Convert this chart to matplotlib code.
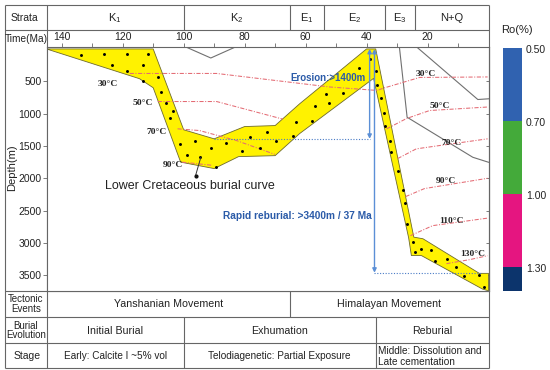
import matplotlib
matplotlib.use("Agg")
import matplotlib.pyplot as plt
from matplotlib.transforms import blended_transform_factory
from matplotlib.patches import Polygon, Rectangle
from matplotlib.ticker import MultipleLocator

plt.rcParams['font.family'] = ['Liberation Sans', 'DejaVu Sans']
plt.rcParams['mathtext.fontset'] = 'custom'
plt.rcParams['mathtext.rm'] = 'Liberation Sans'
plt.rcParams['mathtext.it'] = 'Liberation Sans:italic'

# ---------------- data ----------------
strata_labels = ['K$_1$', 'K$_2$', 'E$_1$', 'E$_2$', 'E$_3$', 'N+Q']
strata_bounds = [145, 100, 65, 54, 34, 24, 0]
time_ticks = [140, 120, 100, 80, 60, 40, 20]
depth_ticks = [500, 1000, 1500, 2000, 2500, 3000, 3500]

# burial-history band (Ma, m)
band_time = [145, 110, 100, 90, 80, 70, 62, 40, 37, 24.5, 21.5, 3, 0, 0, 2,
             22, 25.3, 26.2, 37.7, 62, 70, 82, 90, 101, 110, 114.5]
band_depth = [0, 0, 1250, 1390, 1200, 1185, 850, 0, 0, 2910, 2935, 3470, 3470, 3740, 3712,
              3195, 3195, 2920, 455, 1310, 1650, 1665, 1850, 1750, 600, 460]

# sample dots inside the band
dot_time = [133.8, 126.2, 118.6, 111.7, 123.5, 113.3, 118.6, 113.5, 108.3, 107.3, 105.7, 103.5,
            104.4, 101.3, 96.2, 98.8, 94.5, 91.1, 89.5, 86.2, 80.8, 78.3, 72.8, 74.8, 69.7,
            64.2, 63.1, 57.8, 57.0, 52.4, 53.2, 47.8, 42.5, 39.0,
            37.0, 36.5, 35.2, 34.4, 33.8, 32.2, 31.9, 29.7, 28.2, 27.5, 26.7,
            24.8, 24.0, 22.1, 18.8, 17.7, 13.7, 10.6, 8.1, 3.2, 1.5]
dot_depth = [90, 85, 74, 85, 251, 255, 344, 488, 437, 669, 833, 963,
             1071, 1467, 1416, 1638, 1675, 1536, 1819, 1452, 1579, 1359, 1282, 1533, 1416,
             1350, 1133, 1107, 885, 833, 704, 684, 291, 163,
             348, 550, 755, 994, 1195, 1416, 1598, 1892, 2175, 2387, 2706,
             2980, 3146, 3093, 3108, 3285, 3248, 3367, 3517, 3491, 3687]

# isotherms (Ma, m)
iso30_t = [117.7, 89.2, 52.1, 36.4, 34.8, 22.6, 0.3]
iso30_d = [379, 379, 588, 642, 611, 441, 433]
iso50a_t = [108.5, 89.2, 67.5]
iso50a_d = [813, 813, 1085]
iso50b_t = [33.4, 26.9, 19.3, 0.3]
iso50b_d = [1235, 1076, 952, 898]
iso70a_t = [102.0, 94.8, 82.7, 70.1]
iso70a_d = [1235, 1262, 1416, 1630]
iso70b_t = [29.8, 23.7, 16.1, 0.3]
iso70b_d = [1695, 1545, 1494, 1390]
iso90a_t = [100.5, 90.5]
iso90a_d = [1750, 1800]
iso90b_t = [27.2, 21.0, 0.3]
iso90b_d = [2283, 2159, 2000]
iso110_t = [25.6, 18.3, 0.3]
iso110_d = [2887, 2732, 2616]
iso130_t = [13.8, 6.2, 0.3]
iso130_d = [3320, 3258, 3197]

iso_label_text = ['30°C', '50°C', '70°C', '90°C',
                  '30°C', '50°C', '70°C', '90°C', '110°C', '130°C']
iso_label_t = [124.9, 113.3, 108.8, 103.5, 20.7, 16.1, 12.2, 13.9, 12.2, 5.1]
iso_label_d = [539, 839, 1288, 1788, 395, 885, 1452, 2036, 2666, 3170]

# thin grey lines
grey1_t = [100.7, 91.1, 81.6]
grey1_d = [-60, 140, -60]
grey2_t = [29.3, 26.7, 5.15, 0]
grey2_d = [-60, 1056, 1675, 1752]
grey3_t = [24.3, 3.5, 0]
grey3_d = [-60, 782, 771]

# erosion / reburial markers
erosion_time, erosion_base, erosion_from = 39.0, 1390, 90.0
reburial_time, reburial_base, reburial_to = 37.4, 3460, 2.5

tect_labels = ['Yanshanian Movement', 'Himalayan Movement']
tect_bounds = [145, 65, 0]
burial_labels = ['Initial Burial', 'Exhumation', 'Reburial']
burial_bounds = [145, 100, 37, 0]
stage_labels = ['Early: Calcite I ~5% vol', 'Telodiagenetic: Partial Exposure',
                'Middle: Dissolution and\nLate cementation']

ro_labels = ['0.50', '0.70', '1.00', '1.30']
ro_colors = ['#3062b0', '#44aa3a', '#e51580', '#0c346c']

# ---------------- figure ----------------
W, H = 550, 370
fig = plt.figure(figsize=(W / 100, H / 100), dpi=100)

def fx(px):
    return px / W

def fy(py):
    return 1 - py / H

lay = fig.add_axes([0, 0, 1, 1], zorder=0)
lay.set_xlim(0, W)
lay.set_ylim(H, 0)
lay.axis('off')

AXL, AXR, AXT, AXB = 46.5, 488.5, 47, 290.5
ax = fig.add_axes([fx(AXL), fy(AXB), (AXR - AXL) / W, (AXB - AXT) / H], zorder=2)
ax.set_xlim(145, 0)
ax.set_ylim(3735, -30)

LC = '#666666'
TC = '#222222'
for s in ax.spines.values():
    s.set_color(LC)
    s.set_linewidth(0.8)

ax.xaxis.tick_top()
ax.set_xticks(time_ticks)
ax.xaxis.set_minor_locator(MultipleLocator(10))
ax.tick_params(axis='x', which='both', direction='out', length=3, width=0.6,
               color=LC, labelsize=7.5, pad=0.5, labelcolor=TC)
ax.set_yticks(depth_ticks)
ax.tick_params(axis='y', direction='out', length=3, width=0.6, color=LC,
               labelsize=7.5, pad=0.5, labelcolor=TC)
sec = ax.secondary_yaxis('right')
sec.set_yticks(depth_ticks)
sec.tick_params(direction='in', length=2.5, width=0.6, color=LC, labelright=False)
sec.spines['right'].set_color(LC)
sec.spines['right'].set_linewidth(0.8)

# grey lines
for gt, gd in [(grey1_t, grey1_d), (grey2_t, grey2_d), (grey3_t, grey3_d)]:
    ax.plot(gt, gd, color='#707070', lw=0.8, zorder=1)

# band
ax.add_patch(Polygon(list(zip(band_time, band_depth)), closed=True,
                     fc='#fff200', ec='#6d6a2c', lw=0.6, zorder=2))

# isotherms
iso_style = dict(color='#e46b74', lw=0.75, ls=(0, (4, 1.5, 1, 1.5)), zorder=3)
for it, idp in [(iso30_t, iso30_d), (iso50a_t, iso50a_d), (iso50b_t, iso50b_d),
                (iso70a_t, iso70a_d), (iso70b_t, iso70b_d), (iso90a_t, iso90a_d),
                (iso90b_t, iso90b_d), (iso110_t, iso110_d), (iso130_t, iso130_d)]:
    ax.plot(it, idp, **iso_style)

ax.scatter(dot_time, dot_depth, s=4.5, c='k', linewidths=0, zorder=4)

for lab, lt, ld in zip(iso_label_text, iso_label_t, iso_label_d):
    ax.text(lt, ld, lab, ha='center', va='center', fontsize=6.8, fontweight='bold',
            family=['Liberation Serif', 'DejaVu Serif'], color='#222222', zorder=5)

# erosion / reburial arrows
BLUE_L = '#5b8fd6'
BLUE_T = '#2b5ba8'
ax.annotate('', xy=(erosion_time, erosion_base), xytext=(erosion_time, 0),
            arrowprops=dict(arrowstyle='<|-|>', color=BLUE_L, lw=1.0,
                            mutation_scale=6, shrinkA=0, shrinkB=0), zorder=6)
ax.annotate('', xy=(reburial_time, reburial_base), xytext=(reburial_time, 0),
            arrowprops=dict(arrowstyle='<|-|>', color=BLUE_L, lw=1.0,
                            mutation_scale=6, shrinkA=0, shrinkB=0), zorder=6)
ax.plot([erosion_from, erosion_time], [erosion_base, erosion_base],
        color='#4a7cc6', lw=0.8, ls=(0, (1, 1.5)), zorder=5)
ax.plot([reburial_time, reburial_to], [reburial_base, reburial_base],
        color='#4a7cc6', lw=0.8, ls=(0, (1, 1.5)), zorder=5)

ax.text(40.3, 452, 'Erosion:>1400m', ha='right', va='center', color=BLUE_T,
        fontsize=7, fontweight='bold', zorder=7)
ax.text(38.4, 2577, 'Rapid reburial: >3400m / 37 Ma', ha='right', va='center',
        color=BLUE_T, fontsize=7.3, fontweight='bold', zorder=7)
ax.text(98, 2124, 'Lower Cretaceous burial curve', ha='center', va='center',
        fontsize=9, color=TC, zorder=7)
ax.plot([96.1, 94.4], [1958, 1680], color='#333333', lw=0.7, zorder=6)
ax.plot([96.1], [1958], 'o', color='#111111', ms=2, zorder=6)

# ---------------- frame / tables ----------------
bt = blended_transform_factory(ax.transData, lay.transData)
fl = dict(color=LC, lw=0.8, solid_capstyle='butt')

X0 = 5
for y in [5, 30, AXB, 317, 343, 368]:
    lay.plot([X0, AXR], [y, y], **fl)
for x in [X0, AXL, AXR]:
    lay.plot([x, x], [5, 368], **fl)

for b in strata_bounds[1:-1]:
    lay.plot([b, b], [5, 30], transform=bt, clip_on=False, **fl)
for b in tect_bounds[1:-1]:
    lay.plot([b, b], [AXB, 317], transform=bt, clip_on=False, **fl)
for b in burial_bounds[1:-1]:
    lay.plot([b, b], [317, 368], transform=bt, clip_on=False, **fl)

for lab, a, b in zip(strata_labels, strata_bounds[:-1], strata_bounds[1:]):
    lay.text((a + b) / 2, 18, lab, transform=bt, ha='center', va='center',
             fontsize=8, color=TC)
for lab, a, b in zip(tect_labels, tect_bounds[:-1], tect_bounds[1:]):
    lay.text((a + b) / 2, 304, lab, transform=bt, ha='center', va='center',
             fontsize=7.7, color=TC)
for lab, a, b in zip(burial_labels, burial_bounds[:-1], burial_bounds[1:]):
    lay.text((a + b) / 2, 330.5, lab, transform=bt, ha='center', va='center',
             fontsize=7.7, color=TC)
for i, (lab, a, b) in enumerate(zip(stage_labels, burial_bounds[:-1], burial_bounds[1:])):
    if i < 2:
        lay.text((a + b) / 2, 356, lab, transform=bt, ha='center', va='center',
                 fontsize=7.2, color=TC)
    else:
        lay.text(a - 0.7, 356.5, lab, transform=bt, ha='left', va='center',
                 fontsize=7.2, color=TC, linespacing=1.15)

lay.text(24, 18, 'Strata', ha='center', va='center', fontsize=7.5, color=TC)
lay.text(26, 38.5, 'Time(Ma)', ha='center', va='center', fontsize=7.3, color=TC)
lay.text(26, 304, 'Tectonic\nEvents', ha='center', va='center', fontsize=7,
         color=TC, linespacing=0.95)
lay.text(26, 330.5, 'Burial\nEvolution', ha='center', va='center', fontsize=7,
         color=TC, linespacing=0.95)
lay.text(27, 356, 'Stage', ha='center', va='center', fontsize=7.5, color=TC)
lay.text(12, 168, 'Depth(m)', ha='center', va='center', rotation=90,
         fontsize=8, color=TC)

# ---------------- Ro legend ----------------
cb = fig.add_axes([fx(503), fy(AXB), 19 / W, (AXB - 48) / H], zorder=2)
cb.set_xlim(0, 1)
cb.set_ylim(len(ro_labels) - 1 + 0.324, 0)
cb.axis('off')
cbt = blended_transform_factory(cb.transAxes, cb.transData)
for i, (lab, c) in enumerate(zip(ro_labels, ro_colors)):
    cb.add_patch(Rectangle((0, i), 1, 1, fc=c, ec='none'))
    cb.text(1.2, i + 0.03, lab, transform=cbt, ha='left', va='center',
            fontsize=7.5, color=TC, clip_on=False)
lay.text(517, 30, 'Ro(%)', ha='center', va='center', fontsize=8, color=TC)

fig.savefig('out.png', dpi=100)
